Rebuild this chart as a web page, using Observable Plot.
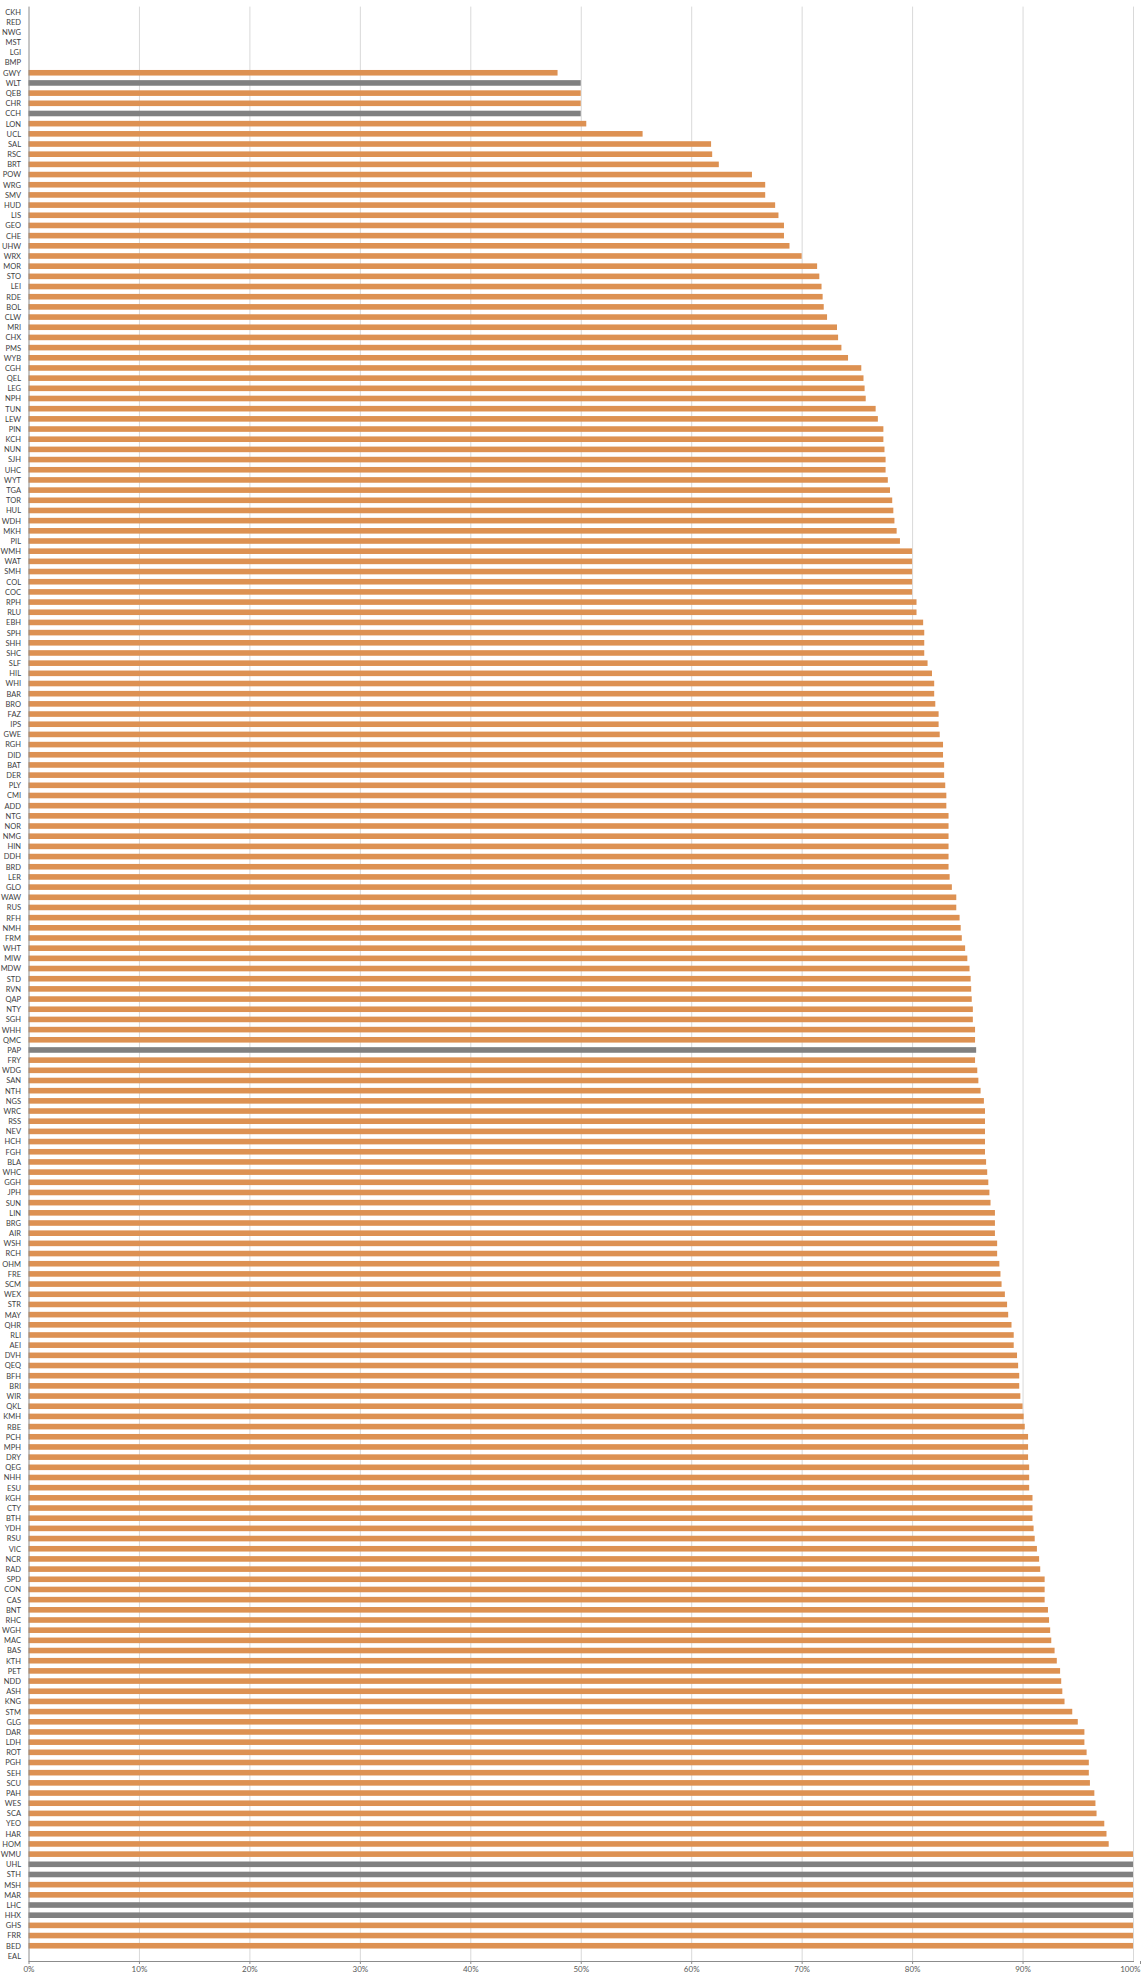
<!DOCTYPE html>
<html>
<head>
<meta charset="utf-8">
<script src="https://cdn.jsdelivr.net/npm/d3@7"></script>
<script src="https://cdn.jsdelivr.net/npm/@observablehq/plot@0.6"></script>
<style>
  html, body { margin: 0; padding: 0; background: #ffffff; }
  #chart svg { display: block; }
</style>
</head>
<body>
<div id="chart"></div>
<script>
const codes = [
  "CKH","RED","NWG","MST","LGI","BMP","GWY","WLT","QEB","CHR","CCH","LON","UCL","SAL","RSC","BRT",
  "POW","WRG","SMV","HUD","LIS","GEO","CHE","UHW","WRX","MOR","STO","LEI","RDE","BOL","CLW","MRI",
  "CHX","PMS","WYB","CGH","QEL","LEG","NPH","TUN","LEW","PIN","KCH","NUN","SJH","UHC","WYT","TGA",
  "TOR","HUL","WDH","MKH","PIL","WMH","WAT","SMH","COL","COC","RPH","RLU","EBH","SPH","SHH","SHC",
  "SLF","HIL","WHI","BAR","BRO","FAZ","IPS","GWE","RGH","DID","BAT","DER","PLY","CMI","ADD","NTG",
  "NOR","NMG","HIN","DDH","BRD","LER","GLO","WAW","RUS","RFH","NMH","FRM","WHT","MIW","MDW","STD",
  "RVN","QAP","NTY","SGH","WHH","QMC","PAP","FRY","WDG","SAN","NTH","NGS","WRC","RSS","NEV","HCH",
  "FGH","BLA","WHC","GGH","JPH","SUN","LIN","BRG","AIR","WSH","RCH","OHM","FRE","SCM","WEX","STR",
  "MAY","QHR","RLI","AEI","DVH","QEQ","BFH","BRI","WIR","QKL","KMH","RBE","PCH","MPH","DRY","QEG",
  "NHH","ESU","KGH","CTY","BTH","YDH","RSU","VIC","NCR","RAD","SPD","CON","CAS","BNT","RHC","WGH",
  "MAC","BAS","KTH","PET","NDD","ASH","KNG","STM","GLG","DAR","LDH","ROT","PGH","SEH","SCU","PAH",
  "WES","SCA","YEO","HAR","HOM","WMU","UHL","STH","MSH","MAR","LHC","HHX","GHS","FRR","BED","EAL"
];

// percentage values (null = no bar)
const values = [
  null,null,null,null,null,null,47.9,50.0,50.0,50.0,50.0,50.5,55.6,61.8,61.9,62.5,
  65.5,66.7,66.7,67.6,67.9,68.4,68.4,68.9,70.0,71.4,71.6,71.8,71.9,72.0,72.3,73.2,
  73.3,73.6,74.2,75.4,75.6,75.7,75.8,76.7,76.9,77.4,77.4,77.5,77.6,77.6,77.8,78.0,
  78.2,78.3,78.4,78.6,78.9,80.0,80.0,80.0,80.0,80.0,80.4,80.4,81.0,81.1,81.1,81.1,
  81.4,81.8,82.0,82.0,82.1,82.4,82.4,82.5,82.8,82.8,82.9,82.9,83.0,83.1,83.1,83.3,
  83.3,83.3,83.3,83.3,83.3,83.4,83.6,84.0,84.0,84.3,84.4,84.5,84.8,85.0,85.2,85.3,
  85.35,85.4,85.5,85.5,85.7,85.7,85.8,85.7,85.9,86.0,86.2,86.5,86.6,86.6,86.6,86.6,
  86.6,86.7,86.8,86.9,87.0,87.1,87.5,87.5,87.5,87.7,87.7,87.9,88.0,88.1,88.4,88.6,
  88.7,89.0,89.2,89.2,89.5,89.6,89.7,89.7,89.8,90.0,90.1,90.2,90.5,90.5,90.5,90.6,
  90.6,90.6,90.9,90.9,90.9,91.0,91.1,91.3,91.5,91.6,92.0,92.0,92.0,92.3,92.4,92.5,
  92.6,92.9,93.1,93.4,93.5,93.6,93.8,94.5,95.0,95.6,95.6,95.8,96.0,96.0,96.1,96.5,
  96.6,96.7,97.4,97.6,97.8,100,100,100,100,100,100,100,100,100,100,null
];

const highlighted = ["WLT","CCH","PAP","UHL","STH","LHC","HHX"];
const xTicks = [0,0.1,0.2,0.3,0.4,0.5,0.6,0.7,0.8,0.9,1];

const orange = "#DD9152";
const gray = "#808080";

const data = codes.map((c, i) => ({
  code: c,
  value: values[i] == null ? NaN : values[i] / 100,
  group: highlighted.includes(c) ? "highlight" : "normal"
})).filter(d => !isNaN(d.value));

const pct = d3.format(".0%");

const chart = Plot.plot({
  width: 1141,
  height: 1975,
  marginLeft: 28.5,
  marginRight: 8,
  marginTop: 6.6,
  marginBottom: 14,
  style: { fontFamily: "Lato, 'Open Sans', sans-serif", fontSize: "8px", color: "#595959", background: "#ffffff" },
  x: { domain: [0, 1], label: null, axis: null },
  y: { domain: codes, paddingInner: 0.45, paddingOuter: 0.225, label: null, axis: null },
  color: { domain: ["normal", "highlight"], range: [orange, gray] },
  marks: [
    Plot.ruleX(xTicks.slice(1), { stroke: "#d9d9d9", strokeWidth: 1 }),
    Plot.barX(data, { x: "value", y: "code", fill: "group" }),
    Plot.ruleX([0], { stroke: "#8c8c8c" }),
    Plot.frame({ anchor: "bottom", stroke: "#8c8c8c" }),
    Plot.axisX({ ticks: xTicks.slice(0, -1), tickFormat: pct, tickSize: 3, tickPadding: 1.5, stroke: "#8c8c8c", fill: "#595959", fontSize: 8, label: null }),
    Plot.axisX({ ticks: xTicks.slice(-1), tickFormat: pct, tickSize: 3, tickPadding: 1.5, stroke: "#8c8c8c", fill: "#595959", fontSize: 8, label: null, textAnchor: "end", dx: 7 }),
    Plot.axisY({ tickSize: 0, tickPadding: 8, fill: "#404040", fontSize: 7.5, label: null })
  ]
});

document.getElementById("chart").appendChild(chart);
</script>
</body>
</html>
